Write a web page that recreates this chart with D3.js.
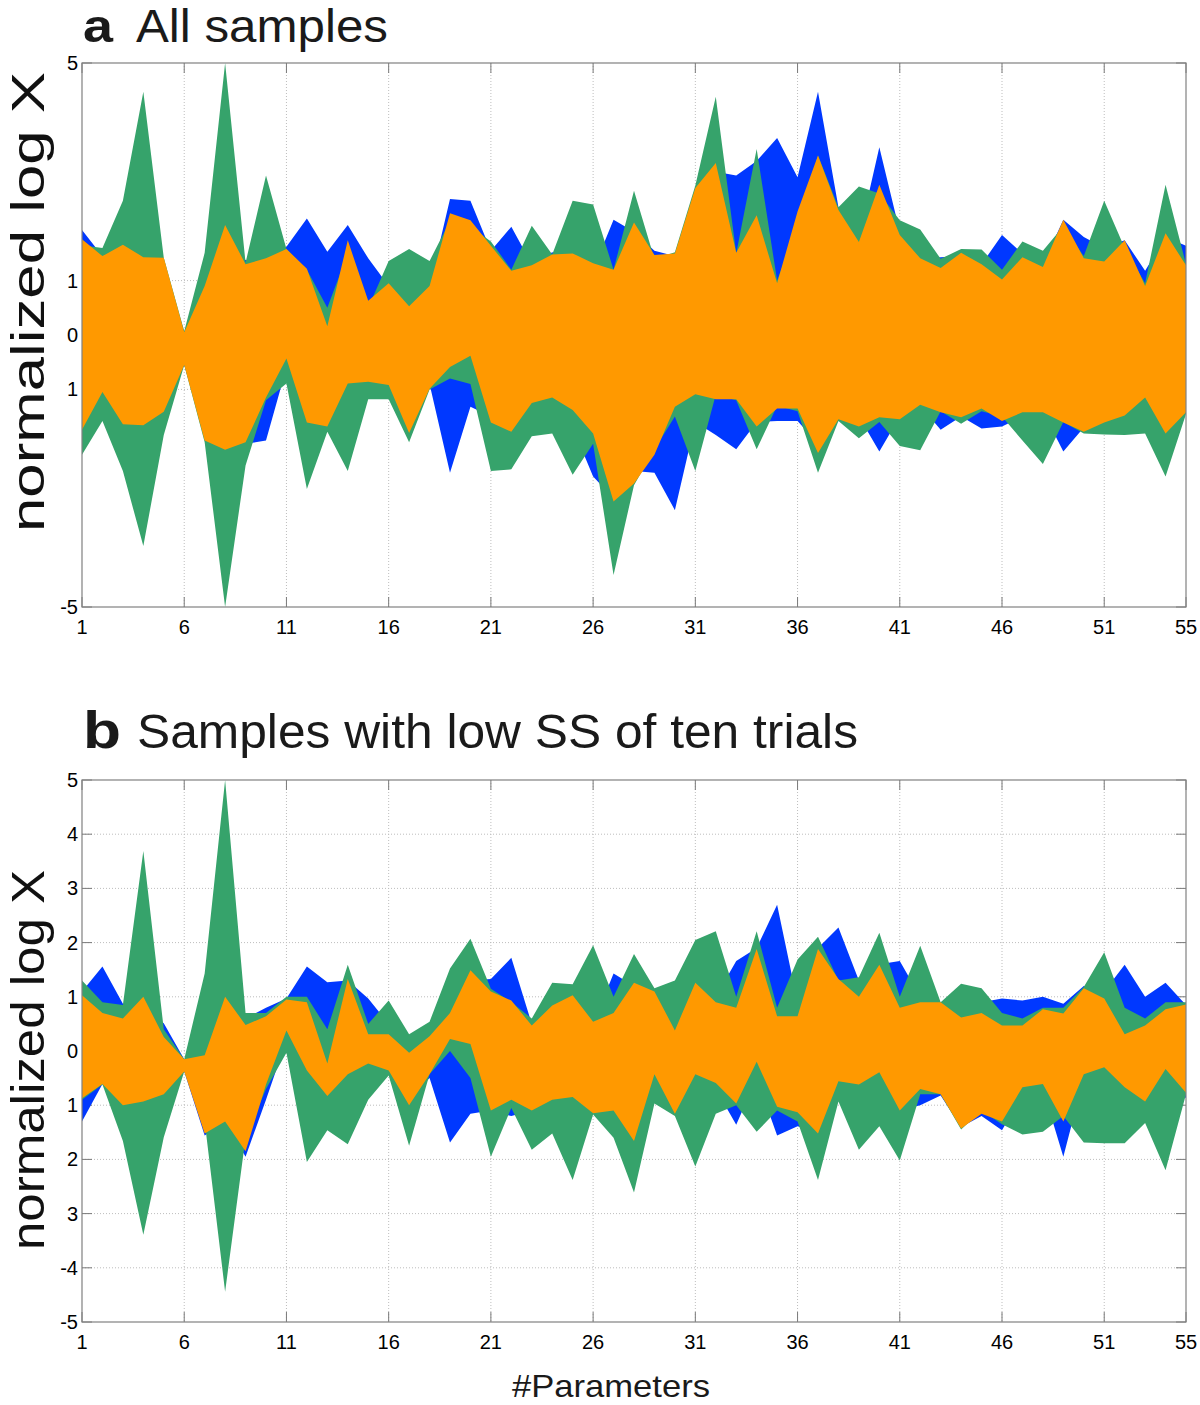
<!DOCTYPE html>
<html><head><meta charset="utf-8">
<script src="https://cdn.jsdelivr.net/npm/d3@7"></script>
<style>body{margin:0;background:#fff}svg{display:block}</style>
</head><body>
<script>
// ---------------- DATA ----------------
const params = d3.range(1, 56);
const xTicks = [1, 6, 11, 16, 21, 26, 31, 36, 41, 46, 51, 55];

// Panel a: All samples
const aBlueHi   = [1.93,1.45,1.5,1.3,1.3,0.05,0.8,1.8,1.38,1.3,1.62,2.14,1.53,2.02,1.41,0.9,0.5,0.9,2.5,2.47,1.55,1.99,1.3,1.52,1.4,1.2,2.12,1.9,1.55,1.45,2.7,3.0,2.93,3.2,3.62,2.9,4.47,2.35,1.8,3.45,1.9,1.4,1.43,1.45,1.3,1.84,1.5,1.3,2.12,1.8,1.6,1.74,1.18,1.8,1.64];
const aBlueLo   = [-1.6,-1.51,-1.5,-1.5,-1.3,-0.55,-1.8,-2.0,-2.0,-1.94,-0.6,-1.7,-1.5,-1.0,-1.0,-1.0,-1.7,-0.9,-2.53,-1.32,-1.5,-1.7,-1.3,-1.3,-1.7,-2.6,-3.0,-2.5,-2.53,-3.22,-1.6,-1.84,-2.1,-1.6,-1.58,-1.58,-2.0,-1.4,-1.5,-2.14,-1.5,-1.3,-1.74,-1.5,-1.72,-1.68,-1.5,-1.4,-2.14,-1.7,-1.6,-1.5,-1.2,-1.7,-1.4];
const aGreenHi  = [1.65,1.6,2.47,4.47,1.42,0.07,1.51,5.0,1.33,2.93,1.58,1.2,0.5,1.5,0.5,1.36,1.58,1.36,2.1,2.0,1.72,1.2,2.01,1.48,2.47,2.4,1.2,2.65,1.4,1.52,2.75,4.38,1.5,3.42,1.0,2.0,3.3,2.35,2.73,2.6,2.11,1.94,1.4,1.58,1.57,1.2,1.72,1.55,2.0,1.45,2.47,1.6,0.95,2.76,1.3];
const aGreenLo  = [-2.2,-1.58,-2.5,-3.88,-1.84,-0.55,-1.97,-5.0,-2.4,-1.2,-0.89,-2.83,-1.78,-2.5,-1.18,-1.18,-1.97,-1.0,-0.8,-0.9,-2.5,-2.47,-1.86,-1.81,-2.57,-2.0,-4.41,-2.76,-2.1,-1.5,-2.5,-1.1,-1.2,-2.1,-1.3,-1.4,-2.53,-1.58,-1.9,-1.6,-2.04,-2.12,-1.4,-1.63,-1.4,-1.5,-1.94,-2.37,-1.6,-1.81,-1.83,-1.84,-1.81,-2.6,-1.45];
const aOrangeHi = [1.76,1.45,1.66,1.43,1.42,0.05,0.9,2.02,1.3,1.41,1.58,1.22,0.16,1.74,0.63,0.95,0.53,0.9,2.24,2.11,1.64,1.18,1.28,1.48,1.5,1.32,1.2,2.07,1.47,1.5,2.7,3.16,1.51,2.2,0.95,2.27,3.3,2.3,1.71,2.76,1.84,1.41,1.23,1.51,1.3,1.02,1.43,1.25,2.12,1.41,1.35,1.74,0.9,1.87,1.28];
const aOrangeLo = [-1.74,-1.05,-1.64,-1.66,-1.41,-0.55,-1.94,-2.11,-1.97,-1.15,-0.43,-1.61,-1.68,-0.89,-0.86,-0.92,-1.8,-0.99,-0.59,-0.38,-1.61,-1.78,-1.25,-1.15,-1.38,-1.81,-3.06,-2.73,-2.2,-1.32,-1.09,-1.18,-1.18,-1.68,-1.35,-1.35,-2.17,-1.55,-1.68,-1.51,-1.55,-1.28,-1.42,-1.51,-1.35,-1.58,-1.42,-1.42,-1.61,-1.78,-1.61,-1.48,-1.15,-1.81,-1.42];

// Panel b: Samples with low SS of ten trials
const bBlueHi   = [1.1,1.56,0.87,0.8,0.51,-0.15,-0.1,0.8,0.6,0.8,0.97,1.56,1.27,1.3,0.97,0.5,0.1,0.3,0.5,1.3,1.33,1.72,0.5,0.9,1.0,0.5,1.43,1.2,1.0,0.5,1.2,1.0,1.66,1.9,2.7,0.9,1.9,2.28,1.3,1.6,1.66,1.0,0.9,0.8,0.9,0.97,0.93,1.0,0.87,1.2,1.1,1.59,1.0,1.26,0.85];
const bBlueLo   = [-1.3,-0.61,-1.0,-0.9,-0.8,-0.38,-1.56,-1.3,-1.95,-0.9,0.2,-0.5,-0.8,-0.6,-0.3,-0.4,-0.9,-0.5,-1.69,-1.16,-1.1,-1.2,-1.1,-1.0,-1.0,-1.1,-1.1,-1.6,-0.5,-1.1,-0.5,-0.7,-1.36,-0.5,-1.56,-1.39,-1.5,-0.6,-0.8,-0.5,-1.1,-1.0,-0.82,-1.4,-1.2,-1.46,-0.8,-0.7,-1.95,-0.5,-0.5,-0.8,-1.0,-0.5,-0.87];
const bGreenHi  = [1.3,0.9,0.85,3.69,0.4,-0.15,1.43,5.0,0.7,0.7,1.0,1.0,0.4,1.59,0.5,0.93,0.31,0.54,1.52,2.07,1.15,0.9,0.6,1.26,1.23,1.95,1.0,1.79,1.16,1.3,2.05,2.21,1.0,2.21,0.8,1.69,2.11,1.3,1.36,2.18,1.0,1.94,0.9,1.24,1.16,0.7,0.6,0.8,0.8,1.18,1.82,0.8,0.6,0.9,0.9];
const bGreenLo  = [-0.9,-0.62,-1.66,-3.39,-1.59,-0.38,-1.3,-4.44,-1.6,-0.7,-0.03,-2.05,-1.46,-1.72,-0.9,-0.45,-1.75,-0.43,0.0,-0.5,-1.95,-1.05,-1.82,-1.52,-2.38,-1.17,-1.6,-2.61,-0.97,-1.2,-2.13,-1.16,-1.0,-1.49,-1.1,-1.3,-2.38,-0.93,-1.82,-1.39,-2.02,-0.8,-0.8,-1.45,-1.1,-1.35,-1.54,-1.49,-1.2,-1.69,-1.7,-1.7,-1.33,-2.2,-0.8];
const bOrangeHi = [1.03,0.7,0.6,1.0,0.26,-0.15,-0.08,1.0,0.48,0.64,0.95,0.9,-0.23,1.33,0.31,0.31,-0.03,0.27,0.7,1.49,1.1,0.93,0.47,0.84,1.03,0.54,0.7,1.26,1.1,0.38,1.26,0.9,0.8,1.88,0.64,0.64,1.88,1.33,1.0,1.59,0.8,0.9,0.9,0.62,0.7,0.47,0.47,0.77,0.69,1.16,0.97,0.31,0.47,0.77,0.86];
const bOrangeLo = [-0.87,-0.61,-1.0,-0.93,-0.8,-0.38,-1.52,-1.3,-1.85,-0.62,0.38,-0.36,-0.83,-0.43,-0.23,-0.36,-1.0,-0.43,0.22,0.13,-1.1,-0.9,-1.1,-0.9,-0.85,-1.15,-1.1,-1.66,-0.43,-1.16,-0.43,-0.59,-0.97,-0.2,-1.03,-1.13,-1.52,-0.56,-0.62,-0.39,-1.1,-0.7,-0.8,-1.43,-1.16,-1.3,-0.67,-0.61,-1.3,-0.43,-0.3,-0.67,-0.93,-0.33,-0.77];

const aYTicks = [-5, -1, 0, 1, 5];
const aYLabels = ["-5", "1", "0", "1", "5"];
const bYTicks = [-5, -4, -3, -2, -1, 0, 1, 2, 3, 4, 5];
const bYLabels = ["-5", "-4", "3", "2", "1", "0", "1", "2", "3", "4", "5"];

const colors = { blue: "#0038ff", green: "#36a36b", orange: "#ff9900" };

// ---------------- DRAW ----------------
const W = 1200, H = 1405;
const svg = d3.select("body").append("svg").attr("width", W).attr("height", H);
const left = 82, right = 1186;
const x = d3.scaleLinear().domain([1, 55]).range([left, right]);
const lf = "'Liberation Sans', Arial, Helvetica, sans-serif";

function panel(cfg) {
  const y = d3.scaleLinear().domain([-5, 5]).range([cfg.bottom, cfg.top]);
  const g = svg.append("g");
  // grid
  g.append("g").selectAll("line").data(xTicks.filter(t => t > 1 && t < 55)).join("line")
    .attr("x1", d => x(d)).attr("x2", d => x(d)).attr("y1", cfg.top).attr("y2", cfg.bottom)
    .attr("stroke", "#bdbdbd").attr("stroke-width", 1).attr("stroke-dasharray", "1,2");
  g.append("g").selectAll("line").data(cfg.yTicks.filter(t => t > -5 && t < 5)).join("line")
    .attr("x1", left).attr("x2", right).attr("y1", d => y(d)).attr("y2", d => y(d))
    .attr("stroke", "#bdbdbd").attr("stroke-width", 1).attr("stroke-dasharray", "1,2");
  // inward ticks (all 4 sides)
  const tk = 10, tc = "#7a7a7a";
  g.append("g").selectAll("line").data(xTicks).join("line")
    .attr("x1", d => x(d)).attr("x2", d => x(d)).attr("y1", cfg.bottom).attr("y2", cfg.bottom - tk)
    .attr("stroke", tc);
  g.append("g").selectAll("line").data(xTicks).join("line")
    .attr("x1", d => x(d)).attr("x2", d => x(d)).attr("y1", cfg.top).attr("y2", cfg.top + tk)
    .attr("stroke", tc);
  g.append("g").selectAll("line").data(cfg.yTicks).join("line")
    .attr("x1", left).attr("x2", left + tk).attr("y1", d => y(d)).attr("y2", d => y(d)).attr("stroke", tc);
  g.append("g").selectAll("line").data(cfg.yTicks).join("line")
    .attr("x1", right).attr("x2", right - tk).attr("y1", d => y(d)).attr("y2", d => y(d)).attr("stroke", tc);

  // fills (blue, then green, then orange on top)
  const area = d3.area().x(d => x(d.i)).y0(d => y(d.lo)).y1(d => y(d.hi)).curve(d3.curveLinear);
  cfg.series.forEach(s => {
    const data = params.map((p, k) => ({ i: p, hi: s.hi[k], lo: s.lo[k] }));
    g.append("path").datum(data).attr("d", area).attr("fill", s.color).attr("stroke", "none");
  });

  // frame
  g.append("rect").attr("x", left).attr("y", cfg.top).attr("width", right - left).attr("height", cfg.bottom - cfg.top)
    .attr("fill", "none").attr("stroke", "#808080").attr("stroke-width", 1.2);

  // tick labels
  g.append("g").selectAll("text").data(xTicks).join("text")
    .attr("x", d => x(d)).attr("y", cfg.bottom + 27).attr("text-anchor", "middle")
    .attr("font-family", lf).attr("font-size", 20).text(d => d);
  g.append("g").selectAll("text").data(cfg.yTicks).join("text")
    .attr("x", left - 4).attr("y", d => y(d) + 7).attr("text-anchor", "end")
    .attr("font-family", lf).attr("font-size", 20).text((d, k) => cfg.yLabels[k]);

  // y label
  g.append("text").attr("transform", `translate(44,${cfg.labelY}) rotate(-90)`)
    .attr("text-anchor", "middle").attr("font-family", lf).attr("font-size", 46)
    .attr("textLength", cfg.labelLen).attr("lengthAdjust", "spacingAndGlyphs")
    .attr("fill", "#111").text("normalized log X");

  // title
  g.append("text").attr("x", 83).attr("y", cfg.titleBase).attr("font-family", lf)
    .attr("font-weight", 700).attr("font-size", cfg.letterSize).attr("fill", "#1a1a1a")
    .attr("textLength", cfg.letterLen).attr("lengthAdjust", "spacingAndGlyphs").text(cfg.letter);
  g.append("text").attr("x", cfg.titleX).attr("y", cfg.titleBase).attr("font-family", lf)
    .attr("font-size", cfg.titleSize).attr("fill", "#1a1a1a")
    .attr("textLength", cfg.titleLen).attr("lengthAdjust", "spacingAndGlyphs").text(cfg.title);
}

panel({
  top: 63, bottom: 607, yTicks: aYTicks, yLabels: aYLabels,
  series: [
    { color: colors.blue, hi: aBlueHi, lo: aBlueLo },
    { color: colors.green, hi: aGreenHi, lo: aGreenLo },
    { color: colors.orange, hi: aOrangeHi, lo: aOrangeLo }
  ],
  labelY: 302, labelLen: 460, letter: "a", letterSize: 46, letterLen: 30,
  title: "All samples", titleX: 136, titleLen: 252, titleSize: 46, titleBase: 42
});
panel({
  top: 780, bottom: 1322, yTicks: bYTicks, yLabels: bYLabels,
  series: [
    { color: colors.blue, hi: bBlueHi, lo: bBlueLo },
    { color: colors.green, hi: bGreenHi, lo: bGreenLo },
    { color: colors.orange, hi: bOrangeHi, lo: bOrangeLo }
  ],
  labelY: 1060, labelLen: 380, letter: "b", letterSize: 52, letterLen: 38,
  title: "Samples with low SS of ten trials", titleX: 137, titleLen: 721, titleSize: 48, titleBase: 748
});

svg.append("text").attr("x", 611).attr("y", 1397).attr("text-anchor", "middle")
  .attr("font-family", lf).attr("font-size", 32)
  .attr("textLength", 198).attr("lengthAdjust", "spacingAndGlyphs")
  .attr("fill", "#1a1a1a").text("#Parameters");
</script>
</body></html>
